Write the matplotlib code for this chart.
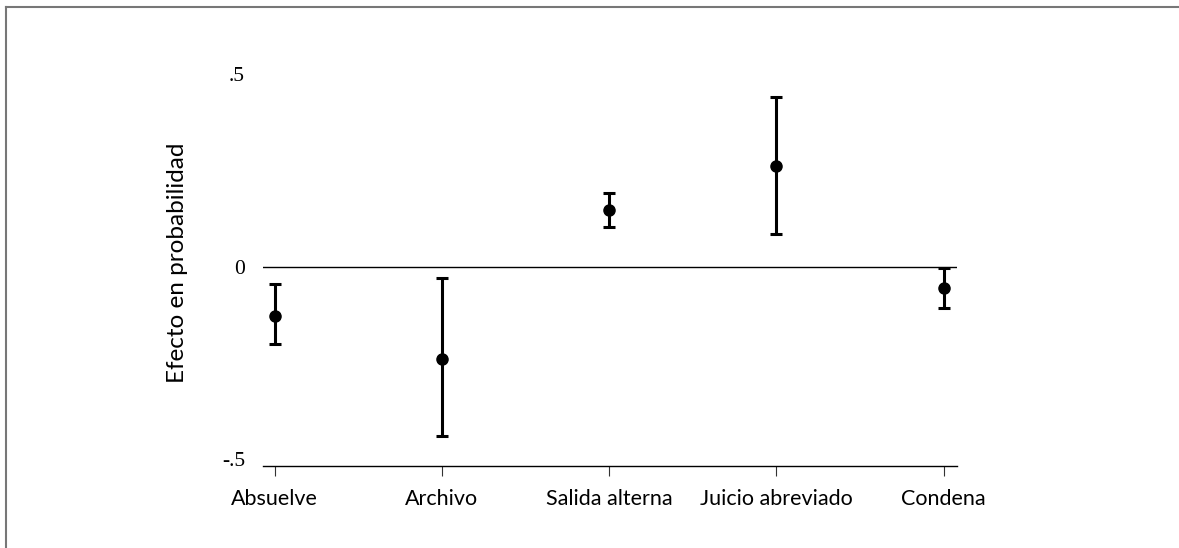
import numpy as np
import matplotlib.pyplot as plt
from matplotlib.lines import Line2D

# 數據
categorias = ["Absuelve", "Archivo", "Salida alterna", "Juicio abreviado", "Condena"]
efecto = [-0.129, -0.240, 0.147, 0.262, -0.055]
ic_inf = [-0.200, -0.440, 0.104, 0.084, -0.106]
ic_sup = [-0.046, -0.029, 0.191, 0.441, -0.003]
yticks = [-0.5, 0, 0.5]
yticklabels = ["-.5", "0", ".5"]

sans = ["Lato", "DejaVu Sans"]
serif = ["Liberation Serif", "DejaVu Serif"]

fig = plt.figure(figsize=(11.79, 5.48), dpi=100)
ax = fig.add_axes([263 / 1179, 1 - 465.7 / 548, (957 - 263) / 1179, (465.7 - 60) / 548])

x = np.arange(len(categorias))
efecto = np.array(efecto)
err = [efecto - np.array(ic_inf), np.array(ic_sup) - efecto]
ax.errorbar(x, efecto, yerr=err, fmt="o", color="black", ms=8,
            elinewidth=2.2, capsize=4.2, capthick=2.2, zorder=3)
ax.axhline(0, color="black", lw=1)

ax.set_xlim(-0.07, 4.08)
ax.set_ylim(-0.517, 0.537)

for s in ["top", "right", "left"]:
    ax.spines[s].set_visible(False)
ax.spines["bottom"].set_linewidth(1)

ax.set_xticks(x)
ax.set_xticklabels(categorias, family=sans, fontsize=15.5)
ax.tick_params(axis="x", length=7.5, width=0.8, pad=9.5, color="#333333")
ax.set_yticks(yticks)
ax.set_yticklabels(yticklabels, family=serif, fontsize=15.5)
ax.tick_params(axis="y", length=0, pad=13)

ax.set_ylabel("Efecto en probabilidad", family=sans, fontsize=17.5)
ax.yaxis.set_label_coords(-0.108, 0.5)

# 外框（只有上方和左側）
fig.add_artist(Line2D([6 / 1179, 6 / 1179], [0, 1 - 7 / 548], transform=fig.transFigure,
                      color="#777777", lw=1.5))
fig.add_artist(Line2D([6 / 1179, 1], [1 - 7 / 548, 1 - 7 / 548], transform=fig.transFigure,
                      color="#777777", lw=1.5))

fig.savefig("out.png", dpi=100)
